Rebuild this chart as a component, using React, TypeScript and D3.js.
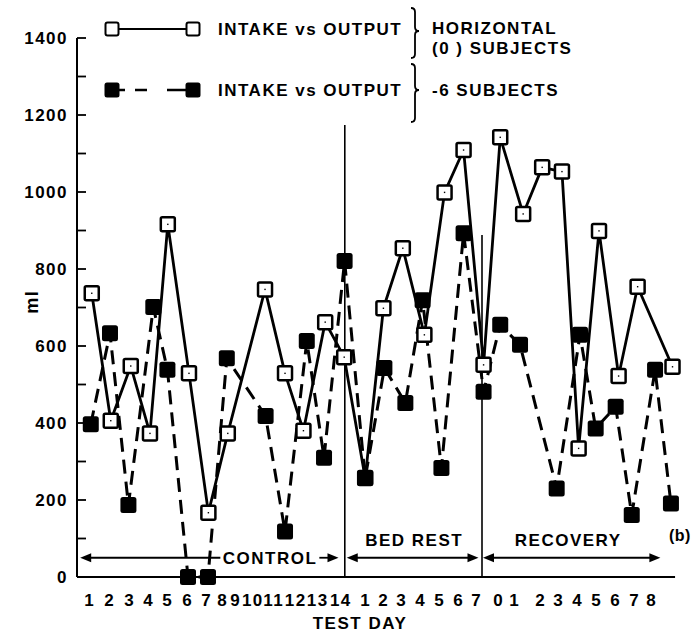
import React from "react";
import * as d3 from "d3";

const W = 693;
const H = 633;

// Y axis (ml)
const yTickValues = [0, 200, 400, 600, 800, 1000, 1200, 1400];
const yMinorTicks = [100, 200, 300, 400, 500, 600, 700, 800, 900, 1000, 1100, 1200, 1300, 1400];

// Test-day labels along the axis (positions in day slots)
const dayLabels = [
  "1", "2", "3", "4", "5", "6", "7", "8", "9", "10", "11", "12", "13", "14",
  "1", "2", "3", "4", "5", "6", "7",
  "0", "1", "2", "3", "4", "5", "6", "7", "8",
];
const dayLabelPos = [
  0.95, 1.97, 2.99, 3.96, 4.93, 5.95, 6.92, 7.73, 8.4, 9.27, 10.34, 11.46, 12.58, 13.76,
  15.03, 15.95, 16.87, 17.84, 18.81, 19.78, 20.69,
  21.82, 22.63, 23.96, 24.88, 25.85, 26.82, 27.79, 28.76, 29.62,
];

// Horizontal (0°) subjects: intake vs output
const horizPos = [
  1.09, 2.06, 3.08, 4.06, 4.97, 6.05, 7.04, 8.03, 9.93, 10.95, 11.89, 13.0, 13.97,
  15.04, 15.97, 16.96, 18.06, 19.09, 20.06, 21.08,
  21.93, 23.1, 24.07, 25.08, 25.93, 26.97, 27.97, 28.94, 30.72,
];
const horizMl = [
  737, 406, 548, 373, 916, 529, 167, 373, 747, 529, 380, 662, 571,
  257, 698, 854, 629, 999, 1109, 551,
  1142, 943, 1064, 1053, 334, 899, 522, 754, 546,
];

// -6° subjects: intake vs output
const tiltPos = [
  1.04, 2.02, 2.96, 4.23, 4.95, 6.0, 7.02, 7.98, 9.96, 10.95, 12.06, 12.94, 13.99,
  15.04, 16.02, 17.09, 17.97, 18.93, 20.06, 21.08,
  21.93, 22.94, 24.81, 26.0, 26.8, 27.82, 28.64, 29.83, 30.64,
];
const tiltMl = [
  397, 633, 187, 701, 538, 0, 0, 568, 418, 118, 613, 310, 821,
  257, 543, 452, 719, 283, 893, 481,
  655, 603, 230, 629, 386, 442, 161, 538, 191,
];

// Phase dividers (slot, top in ml)
const dividerPos = [14.0, 21.0];
const dividerTop = [1174, 888];

// Phase labels and arrow spans (slots)
const phaseNames = ["CONTROL", "BED REST", "RECOVERY"];
const phaseFrom = [0.5, 14.1, 21.05];
const phaseTo = [13.68, 20.82, 30.1];
const phaseTextPos = [10.15, 17.5, 25.36];

const FONT = "'Liberation Sans', Arial, Helvetica, sans-serif";

export default function App() {
  const x = d3.scaleLinear().domain([1, 30]).range([90, 658.4]);
  const y = d3.scaleLinear().domain([0, 1400]).range([577, 38]);

  const axisX = 77;
  const axisRight = x(30.85);

  const horiz = horizPos.map((p, i) => [p, horizMl[i]] as [number, number]);
  const tilt = tiltPos.map((p, i) => [p, tiltMl[i]] as [number, number]);
  const line = d3
    .line<[number, number]>()
    .x((d) => x(d[0]))
    .y((d) => y(d[1]));

  const textStyle = {
    fontFamily: FONT,
    fontWeight: 700,
    fontSize: 17,
    letterSpacing: 1.5,
  } as React.CSSProperties;

  const arrowY = y(50);
  const labelY = y(96);

  const arrowHead = (tipX: number, yy: number, dir: number) =>
    `M${tipX},${yy} L${tipX - dir * 11},${yy - 4.5} L${tipX - dir * 11},${yy + 4.5} Z`;

  const brace = (x0: number, y0: number, y1: number, ym: number) => {
    const w = 4;
    const r = 4;
    return `M${x0},${y0} Q${x0 + w},${y0} ${x0 + w},${y0 + r} L${x0 + w},${ym - r} Q${x0 + w},${ym} ${x0 + 2 * w},${ym} Q${x0 + w},${ym} ${x0 + w},${ym + r} L${x0 + w},${y1 - r} Q${x0 + w},${y1} ${x0},${y1}`;
  };

  const openSize = 14;
  const fillSize = 16;

  return (
    <svg
      width={W}
      height={H}
      viewBox={`0 0 ${W} ${H}`}
      style={{ position: "absolute", left: 0, top: 0, background: "#fff" }}
    >
      <rect width={W} height={H} fill="#fff" />

      {/* axes */}
      <line x1={axisX} y1={y(1400)} x2={axisX} y2={y(0)} stroke="#000" strokeWidth={2} />
      <line x1={axisX} y1={y(0)} x2={axisRight} y2={y(0)} stroke="#000" strokeWidth={2} />
      {yMinorTicks.map((v) => (
        <line key={v} x1={axisX} x2={axisX + 9} y1={y(v)} y2={y(v)} stroke="#000" strokeWidth={1.8} />
      ))}
      {yTickValues.map((v) => (
        <text key={v} x={68} y={y(v)} dy="0.36em" textAnchor="end" style={textStyle}>
          {v}
        </text>
      ))}
      <text
        transform={`translate(38,${y(715)}) rotate(-90)`}
        textAnchor="middle"
        style={{ ...textStyle, fontSize: 18 }}
      >
        ml
      </text>

      {/* day labels */}
      {dayLabels.map((t, i) => (
        <text key={i} x={x(dayLabelPos[i]) + 0.75} y={606} textAnchor="middle" style={textStyle}>
          {t}
        </text>
      ))}
      <text x={360} y={629} textAnchor="middle" style={textStyle}>
        TEST DAY
      </text>

      {/* phase dividers */}
      {dividerPos.map((p, i) => (
        <line key={i} x1={x(p)} x2={x(p)} y1={y(dividerTop[i])} y2={y(0)} stroke="#000" strokeWidth={1.6} />
      ))}

      {/* phase arrows */}
      {phaseNames.map((name, i) => {
        const a = x(phaseFrom[i]);
        const b = x(phaseTo[i]);
        const c = x(phaseTextPos[i]);
        if (i === 0) {
          const half = 47;
          return (
            <g key={name}>
              <line x1={a + 6} x2={c - half - 2} y1={arrowY} y2={arrowY} stroke="#000" strokeWidth={1.8} />
              <path d={arrowHead(a, arrowY, -1)} fill="#000" />
              <text x={c + 0.75} y={arrowY} dy="0.36em" textAnchor="middle" style={textStyle}>
                {name}
              </text>
              <line x1={c + half + 3} x2={b - 6} y1={arrowY} y2={arrowY} stroke="#000" strokeWidth={1.8} />
              <path d={arrowHead(b, arrowY, 1)} fill="#000" />
            </g>
          );
        }
        return (
          <g key={name}>
            <line x1={a + 6} x2={b - 6} y1={arrowY} y2={arrowY} stroke="#000" strokeWidth={1.8} />
            <path d={arrowHead(a, arrowY, -1)} fill="#000" />
            <path d={arrowHead(b, arrowY, 1)} fill="#000" />
            <text x={c + 0.75} y={labelY} dy="0.36em" textAnchor="middle" style={textStyle}>
              {name}
            </text>
          </g>
        );
      })}
      <text x={669} y={y(108)} dy="0.36em" style={{ ...textStyle, fontSize: 16, letterSpacing: 0.5 }}>
        (b)
      </text>

      {/* series lines */}
      <path d={line(horiz) || ""} fill="none" stroke="#000" strokeWidth={2.8} strokeLinejoin="round" />
      <path
        d={line(tilt) || ""}
        fill="none"
        stroke="#000"
        strokeWidth={3}
        strokeDasharray="14,8"
      />

      {/* open squares */}
      {horiz.map((d, i) => (
        <g key={`o${i}`}>
          <rect
            x={x(d[0]) - openSize / 2}
            y={y(d[1]) - openSize / 2}
            width={openSize}
            height={openSize}
            rx={1.5}
            fill="#fff"
            stroke="#000"
            strokeWidth={2.5}
          />
          <rect x={x(d[0]) - 0.7} y={y(d[1]) - 0.7} width={1.4} height={1.4} fill="#000" />
        </g>
      ))}

      {/* filled squares */}
      {tilt.map((d, i) => (
        <rect
          key={`f${i}`}
          x={x(d[0]) - fillSize / 2}
          y={y(d[1]) - fillSize / 2}
          width={fillSize}
          height={fillSize}
          rx={2.5}
          fill="#000"
        />
      ))}

      {/* legend */}
      <line x1={112} x2={193} y1={29} y2={29} stroke="#000" strokeWidth={2} />
      {[112, 193].map((cx) => (
        <rect key={cx} x={cx - 6.5} y={29 - 6.5} width={13} height={13} rx={2} fill="#fff" stroke="#000" strokeWidth={2} />
      ))}
      <line x1={118} x2={188} y1={90} y2={90} stroke="#000" strokeWidth={2.4} strokeDasharray="7,10,12,20,20" />
      {[112, 193].map((cx) => (
        <rect key={cx} x={cx - 7.5} y={90 - 7.5} width={15} height={15} rx={2.5} fill="#000" />
      ))}
      <text x={218} y={29} dy="0.36em" style={textStyle}>
        INTAKE vs OUTPUT
      </text>
      <text x={218} y={90} dy="0.36em" style={textStyle}>
        INTAKE vs OUTPUT
      </text>
      <path d={brace(411, 8, 58, 31)} fill="none" stroke="#000" strokeWidth={1.8} />
      <path d={brace(411, 64, 122, 90)} fill="none" stroke="#000" strokeWidth={1.8} />
      <text x={432} y={28} dy="0.36em" style={textStyle}>
        HORIZONTAL
      </text>
      <text x={432} y={48} dy="0.36em" style={textStyle}>
        (0 ) SUBJECTS
      </text>
      <text x={432} y={90} dy="0.36em" style={textStyle}>
        -6  SUBJECTS
      </text>
    </svg>
  );
}
